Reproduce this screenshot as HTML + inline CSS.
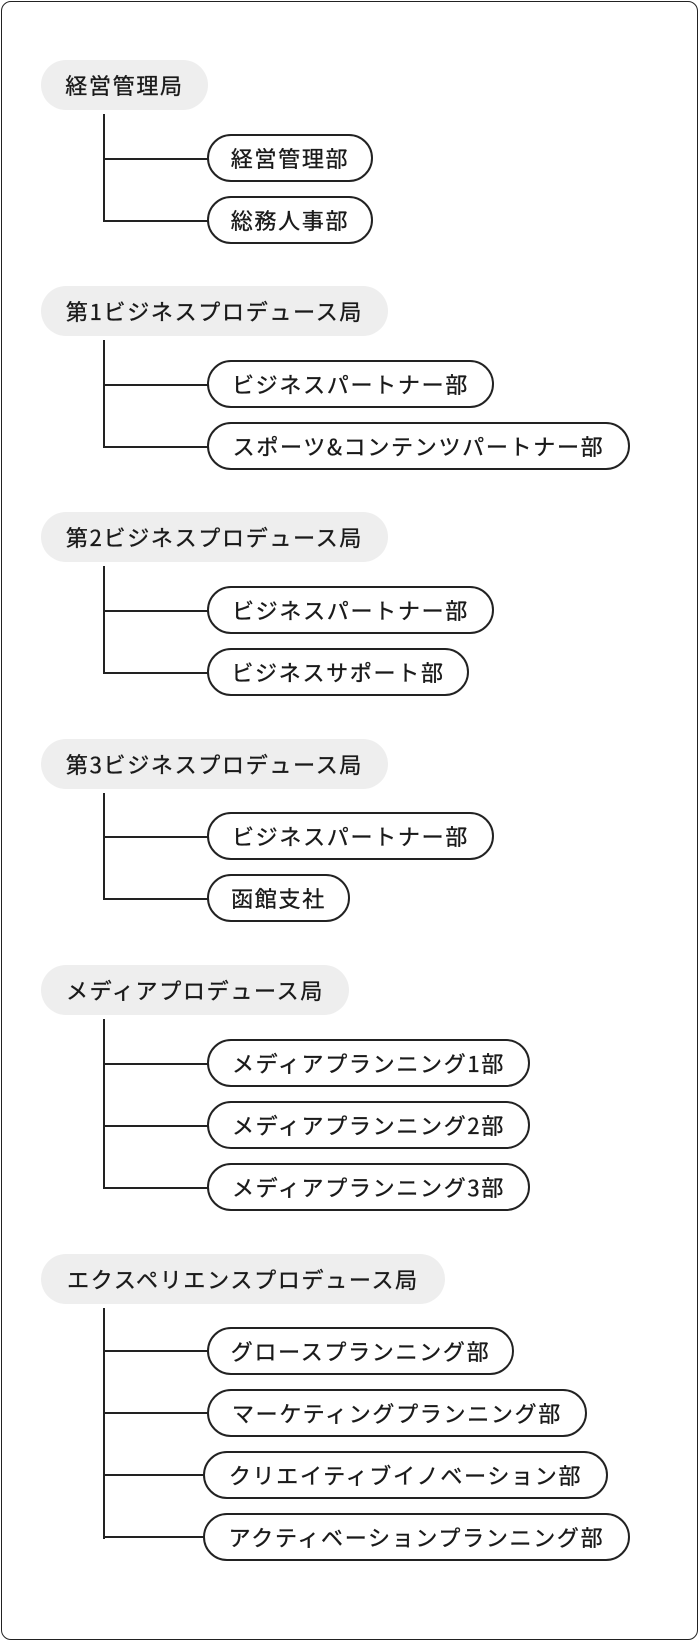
<!DOCTYPE html>
<html><head><meta charset="utf-8"><style>
html,body{margin:0;padding:0;background:#fff;}
body{width:700px;height:1642px;position:relative;overflow:hidden;font-family:"Noto Sans CJK JP","Liberation Sans",sans-serif;color:#1a1a1a;}
.frame{position:absolute;left:1px;top:1px;width:697px;height:1639px;border:1.5px solid #222;border-radius:10px;box-sizing:border-box;}
.h,.c{font-size:22px;letter-spacing:1.7px;-webkit-text-stroke:0.35px #1a1a1a;text-align:center;box-sizing:border-box;white-space:nowrap;}
.h{position:absolute;left:41px;height:50px;line-height:50px;background:#eee;border-radius:25px;}
.c{position:absolute;height:48px;line-height:44px;border:2px solid #222;border-radius:24px;background:#fff;}
.v{position:absolute;left:103px;width:2px;background:#222;}
.l{position:absolute;left:103px;height:2px;background:#222;}
</style></head><body>
<div class="frame"></div>

<div class="h" style="top:60px;width:167px">経営管理局</div>
<div class="v" style="top:114px;height:108px"></div>
<div class="l" style="top:158px;width:106px"></div>
<div class="l" style="top:220px;width:106px"></div>
<div class="c" style="left:207px;top:134px;width:166px">経営管理部</div>
<div class="c" style="left:207px;top:196px;width:166px">総務人事部</div>

<div class="h" style="top:286px;width:347px">第1ビジネスプロデュース局</div>
<div class="v" style="top:340px;height:108px"></div>
<div class="l" style="top:384px;width:106px"></div>
<div class="l" style="top:446px;width:106px"></div>
<div class="c" style="left:207px;top:360px;width:287px">ビジネスパートナー部</div>
<div class="c" style="left:207px;top:422px;width:423px">スポーツ&amp;コンテンツパートナー部</div>

<div class="h" style="top:512px;width:347px">第2ビジネスプロデュース局</div>
<div class="v" style="top:566px;height:108px"></div>
<div class="l" style="top:610px;width:106px"></div>
<div class="l" style="top:672px;width:106px"></div>
<div class="c" style="left:207px;top:586px;width:287px">ビジネスパートナー部</div>
<div class="c" style="left:207px;top:648px;width:262px">ビジネスサポート部</div>

<div class="h" style="top:739px;width:347px">第3ビジネスプロデュース局</div>
<div class="v" style="top:793px;height:107px"></div>
<div class="l" style="top:836px;width:106px"></div>
<div class="l" style="top:898px;width:106px"></div>
<div class="c" style="left:207px;top:812px;width:287px">ビジネスパートナー部</div>
<div class="c" style="left:207px;top:874px;width:143px">函館支社</div>

<div class="h" style="top:965px;width:308px">メディアプロデュース局</div>
<div class="v" style="top:1019px;height:170px"></div>
<div class="l" style="top:1063px;width:106px"></div>
<div class="l" style="top:1125px;width:106px"></div>
<div class="l" style="top:1187px;width:106px"></div>
<div class="c" style="left:207px;top:1039px;width:323px">メディアプランニング1部</div>
<div class="c" style="left:207px;top:1101px;width:323px">メディアプランニング2部</div>
<div class="c" style="left:207px;top:1163px;width:323px">メディアプランニング3部</div>

<div class="h" style="top:1254px;width:404px">エクスペリエンスプロデュース局</div>
<div class="v" style="top:1308px;height:231px"></div>
<div class="l" style="top:1350px;width:106px"></div>
<div class="l" style="top:1412px;width:106px"></div>
<div class="l" style="top:1474px;width:104px"></div>
<div class="l" style="top:1536px;width:104px"></div>
<div class="c" style="left:207px;top:1327px;width:307px">グロースプランニング部</div>
<div class="c" style="left:207px;top:1389px;width:380px">マーケティングプランニング部</div>
<div class="c" style="left:203px;top:1451px;width:405px">クリエイティブイノベーション部</div>
<div class="c" style="left:203px;top:1513px;width:427px">アクティベーションプランニング部</div>
</body></html>
